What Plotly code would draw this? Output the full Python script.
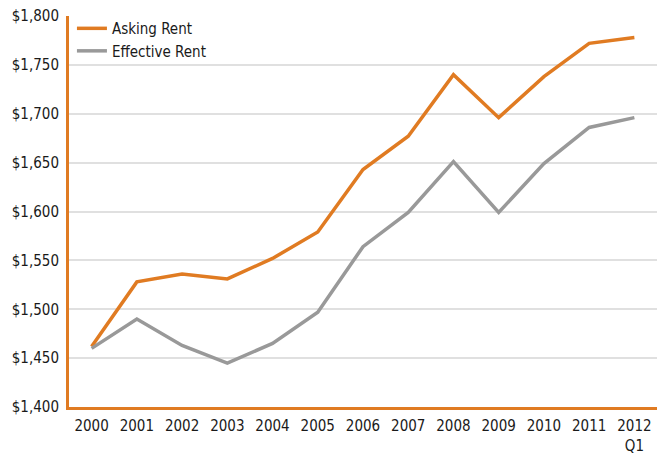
import plotly.graph_objects as go

years = ["2000", "2001", "2002", "2003", "2004", "2005", "2006",
         "2007", "2008", "2009", "2010", "2011", "2012<br>Q1"]
asking_rent = [1462, 1528, 1536, 1531, 1552, 1579, 1643,
               1677, 1740, 1696, 1738, 1772, 1778]
effective_rent = [1460, 1490, 1463, 1445, 1465, 1497, 1564,
                  1599, 1651, 1599, 1649, 1686, 1696]
y_ticks = [1400, 1450, 1500, 1550, 1600, 1650, 1700, 1750, 1800]
y_tick_labels = ["$1,400", "$1,450", "$1,500", "$1,550", "$1,600",
                 "$1,650", "$1,700", "$1,750", "$1,800"]

ORANGE = "#E07B22"
GREY = "#999999"
FONT = "DejaVu Sans Condensed, Liberation Sans Narrow, Arial Narrow, sans-serif"

fig = go.Figure()
fig.add_trace(go.Scatter(x=years, y=asking_rent, mode="lines", name="Asking Rent",
                         line=dict(color=ORANGE, width=3.5)))
fig.add_trace(go.Scatter(x=years, y=effective_rent, mode="lines", name="Effective Rent",
                         line=dict(color=GREY, width=3.5)))

fig.update_layout(
    width=660, height=455,
    margin=dict(l=69, r=3, t=16, b=48),
    paper_bgcolor="white", plot_bgcolor="white",
    font=dict(family=FONT, size=15, color="#1a1a1a"),
    legend=dict(x=0.005, y=1.01, xanchor="left", yanchor="top",
                bgcolor="rgba(0,0,0,0)", font=dict(size=15),
                tracegroupgap=0, itemwidth=30),
    xaxis=dict(type="category", range=[-0.5, len(years) - 0.5],
               showgrid=False, showline=True,
               linecolor=ORANGE, linewidth=3, ticks="", zeroline=False,
               tickfont=dict(size=15), ticklabelstandoff=3, automargin=False),
    yaxis=dict(range=[1400, 1800], tickvals=y_ticks, ticktext=y_tick_labels,
               showgrid=True, gridcolor="#E0E0E0", gridwidth=1.5,
               showline=True, linecolor=ORANGE, linewidth=3, ticks="",
               zeroline=False, tickfont=dict(size=15), ticklabelstandoff=4,
               automargin=False),
)

fig.write_html("out.html")
